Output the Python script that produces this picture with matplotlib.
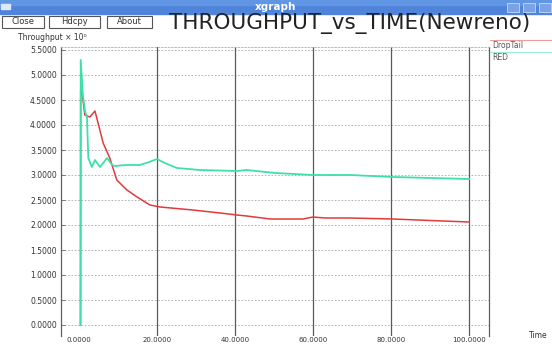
import numpy as np
import matplotlib.pyplot as plt
from matplotlib.patches import Rectangle

W, H = 552, 345

# throughput samples (time in s, throughput x 10^0)
droptail_t = [0.4, 0.45, 0.8, 1.5, 2.8, 4.1, 4.9, 6.2, 7.9, 9.7, 12.3, 14.9, 18.2, 20.8,
              25.0, 29.2, 36.2, 40.5, 43.0, 49.0, 57.4, 60.0, 63.0, 69.5, 80.5, 90.0, 100.0]
droptail_v = [0.0, 4.7, 4.66, 4.2, 4.16, 4.28, 4.04, 3.64, 3.34, 2.9, 2.7, 2.56, 2.4, 2.36,
              2.33, 2.3, 2.24, 2.2, 2.18, 2.12, 2.12, 2.16, 2.14, 2.14, 2.12, 2.09, 2.06]

red_t = [0.4, 0.45, 1.0, 1.6, 2.05, 2.4, 3.3, 4.1, 5.4, 6.2, 7.2, 8.5, 9.2, 12.0, 15.6,
         18.0, 20.0, 22.0, 25.1, 31.0, 40.5, 43.0, 50.3, 60.0, 69.5, 80.5, 100.0]
red_v = [0.0, 5.3, 4.6, 4.26, 4.16, 3.34, 3.16, 3.3, 3.16, 3.24, 3.34, 3.2, 3.18, 3.2, 3.2,
         3.26, 3.32, 3.24, 3.14, 3.1, 3.08, 3.1, 3.04, 3.0, 3.0, 2.96, 2.92]

series_names = ['DropTail', 'RED']
series_colors = ['#e23a3a', '#3fe0a8']

y_ticks = np.arange(0, 5.51, 0.5)
x_ticks = [0, 20, 40, 60, 80, 100]

fig = plt.figure(figsize=(W / 100, H / 100), dpi=100)
fig.patch.set_facecolor('white')


def frac(x0, y0, x1, y1):
    # pixel box (top-left origin) -> figure fraction rect
    return [x0 / W, 1 - y1 / H, (x1 - x0) / W, (y1 - y0) / H]


ax = fig.add_axes(frac(61, 47, 489, 336))
ax.plot(droptail_t, droptail_v, color=series_colors[0], lw=1.1, zorder=3)
ax.plot(red_t, red_v, color=series_colors[1], lw=1.3, zorder=4)
ax.set_xlim(-4.6, 105.1)
ax.set_ylim(-0.22, 5.56)

ax.set_yticks(y_ticks)
ax.set_yticklabels(['%.4f' % v for v in y_ticks], fontsize=5.5, color='#333333')
ax.set_xticks(x_ticks)
ax.set_xticklabels(['%.4f' % v for v in x_ticks], fontsize=5, color='#333333')
ax.tick_params(axis='y', direction='in', length=3, width=0.6, color='#666666', pad=3)
ax.tick_params(axis='x', length=0, pad=0.5)

for v in y_ticks:
    ax.axhline(v, color='#a8a8a8', lw=0.6, ls=(0, (2, 2)), zorder=1)
for v in x_ticks[1:]:
    ax.axvline(v, color='#5a5a5a', lw=0.9, zorder=1)

for side in ['left', 'right']:
    ax.spines[side].set_color('#606060')
    ax.spines[side].set_linewidth(0.9)
ax.spines['top'].set_color('#b0b0b0')
ax.spines['top'].set_linestyle((0, (2, 2)))
ax.spines['top'].set_linewidth(0.6)
ax.spines['bottom'].set_visible(False)

# window decorations and labels drawn in pixel coordinates
ov = fig.add_axes([0, 0, 1, 1], zorder=10)
ov.set_xlim(0, W)
ov.set_ylim(H, 0)
ov.axis('off')
ov.patch.set_alpha(0)

ov.add_patch(Rectangle((0, 0), W, 14, color='#4f84da'))
ov.add_patch(Rectangle((0, 0), W, 5, color='#6096e4'))
ov.add_patch(Rectangle((1, 4), 9, 5, color='#dfe8f8'))
ov.text(276, 7, 'xgraph', color='white', fontsize=7.5, fontweight='bold',
        ha='center', va='center')
for bx in [507, 523, 539]:
    ov.add_patch(Rectangle((bx, 3), 12, 9, facecolor='#7aa2e6', edgecolor='#c8d8f4', lw=0.6))

ov.text(530, 23, 'THROUGHPUT_vs_TIME(Newreno)', fontsize=15.5, color='#222222',
        ha='right', va='center')

for label, x0, x1 in [('Close', 2, 44), ('Hdcpy', 49, 100), ('About', 107, 152)]:
    ov.add_patch(Rectangle((x0, 16), x1 - x0, 12, facecolor='white',
                           edgecolor='#555555', lw=0.8))
    ov.text((x0 + x1) / 2, 22, label, fontsize=6, color='#333333',
            ha='center', va='center')

ov.text(18, 37, 'Throughput × 10⁰', fontsize=5.5, color='#333333', va='center')

for name, color, y in zip(series_names, series_colors, [46, 58]):
    ov.plot([490, 552], [y - 6, y - 6], color=color, lw=0.8, alpha=0.5)
    ov.text(492, y, name, fontsize=5.5, color='#555555', va='center')

ov.text(529, 336, 'Time', fontsize=5.5, color='#333333', va='center')

fig.savefig('out.png', dpi=100, facecolor='white')
